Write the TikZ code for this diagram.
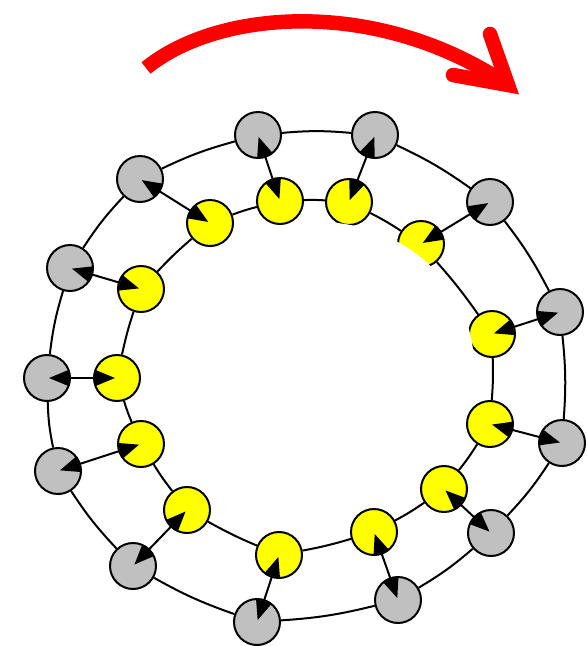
\documentclass[tikz,border=0pt]{standalone}
\usetikzlibrary{arrows.meta}
\definecolor{nodegray}{RGB}{192,192,192}
\definecolor{nodeyellow}{RGB}{255,255,0}
\definecolor{arrowred}{RGB}{255,0,0}
\begin{document}
\begin{tikzpicture}[x=1pt,y=-1pt,
  base/.style={circle,draw=black,line width=2pt,minimum size=46pt,inner sep=0pt},
  gnode/.style={base,fill=nodegray},
  ynode/.style={base,fill=nodeyellow},
  ring/.style={line width=2pt,black},
  pair/.style={line width=2pt,black,{Triangle[length=20pt,width=16pt]}-{Triangle[length=20pt,width=16pt]},shorten <=2pt,shorten >=2pt},
  bigarrow/.style={arrowred,line width=14.5pt}
]
\useasboundingbox (0,0) rectangle (587,646);
% outer (gray) nodes
\node[gnode] (g1) at (258,135) {};
\node[gnode] (g2) at (375,135) {};
\node[gnode] (g3) at (490,202) {};
\node[gnode] (g4) at (560,312) {};
\node[gnode] (g5) at (562,443) {};
\node[gnode] (g6) at (491,533) {};
\node[gnode] (g7) at (398,600) {};
\node[gnode] (g8) at (257,622) {};
\node[gnode] (g9) at (133,566) {};
\node[gnode] (g10) at (58,471) {};
\node[gnode] (g11) at (47,378) {};
\node[gnode] (g12) at (70,268) {};
\node[gnode] (g13) at (140,179) {};
% inner (yellow) nodes
\node[ynode] (y1) at (280,201) {};
\node[ynode] (y2) at (349,202) {};
\node[ynode] (y3) at (421,244) {};
\node[ynode] (y4) at (492,334) {};
\node[ynode] (y5) at (490,424) {};
\node[ynode] (y6) at (444,489) {};
\node[ynode] (y7) at (374,532) {};
\node[ynode] (y8) at (279,555) {};
\node[ynode] (y9) at (187,510) {};
\node[ynode] (y10) at (141,444) {};
\node[ynode] (y11) at (117,378) {};
\node[ynode] (y12) at (141,289) {};
\node[ynode] (y13) at (210,223) {};
% rings
\foreach \a/\b in {1/2,2/3,3/4,4/5,5/6,6/7,7/8,8/9,9/10,10/11,11/12,12/13,13/1}{
  \draw[ring] (g\a) to[bend left=5] (g\b);
  \draw[ring] (y\a) to[bend left=3] (y\b);
}
% white inner area
\fill[white] (319,366) ellipse [x radius=155, y radius=144];
% pair connectors
\foreach \i in {1,...,13}{
  \draw[pair] (y\i.center) -- (g\i.center);
}
% red arrow
\coordinate (rs) at (146,68);
\coordinate (rv) at (508,85);
\coordinate (rb1) at (490,34);
\coordinate (rb2) at (453,75);
\draw[bigarrow,line cap=butt] (rs) .. controls (220,8) and (380,-2) .. (rv);
\draw[bigarrow,line cap=round,line join=miter] (rb1) -- (rv) -- (rb2);
\end{tikzpicture}
\end{document}
